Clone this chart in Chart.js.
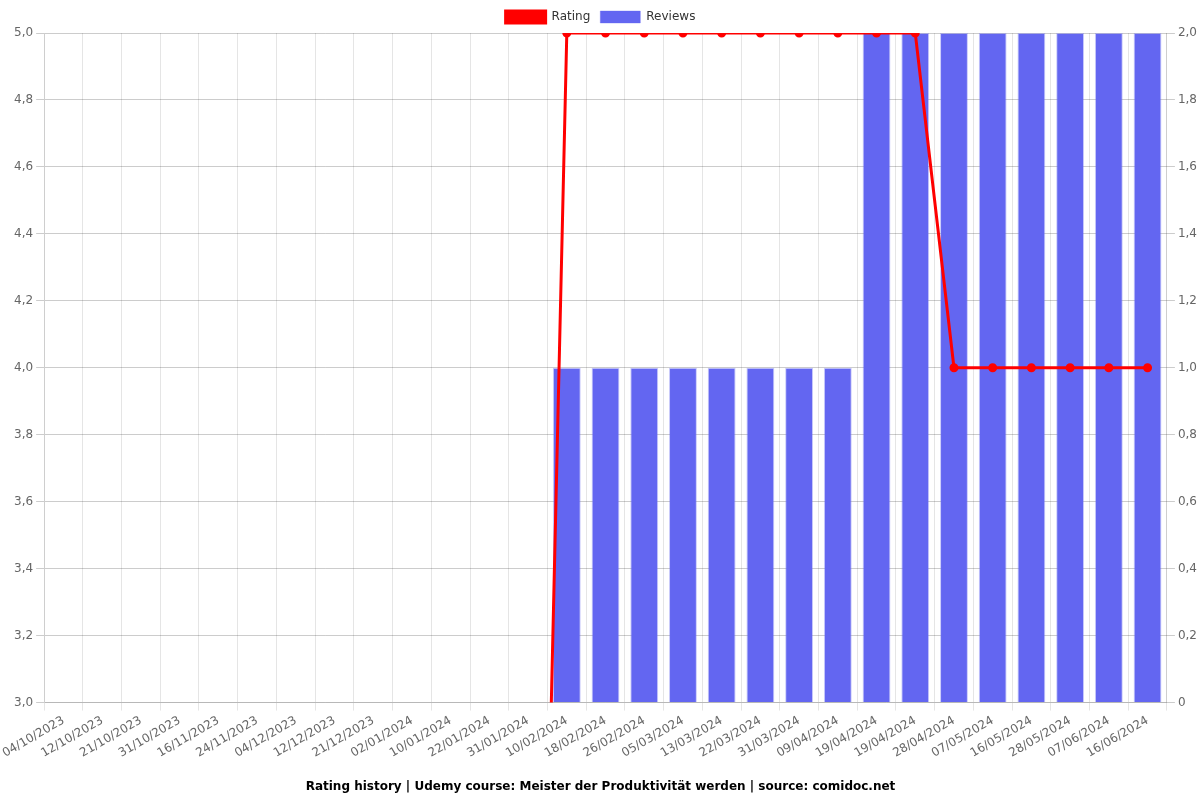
<!DOCTYPE html>
<html>
<head>
<meta charset="utf-8">
<script src="https://cdn.jsdelivr.net/npm/chart.js@4/dist/chart.umd.min.js"></script>
<style>
html,body{margin:0;padding:0;background:#fff;}
#wrap{width:1200px;height:800px;}
</style>
</head>
<body>
<div id="wrap"><canvas id="c" width="1200" height="800"></canvas></div>
<script>
const labels = ["04/10/2023","12/10/2023","21/10/2023","31/10/2023","16/11/2023","24/11/2023","04/12/2023","12/12/2023","21/12/2023","02/01/2024","10/01/2024","22/01/2024","31/01/2024","10/02/2024","18/02/2024","26/02/2024","05/03/2024","13/03/2024","22/03/2024","31/03/2024","09/04/2024","19/04/2024","19/04/2024","28/04/2024","07/05/2024","16/05/2024","28/05/2024","07/06/2024","16/06/2024"];
const ratings = [0,0,0,0,0,0,0,0,0,0,0,0,0,5,5,5,5,5,5,5,5,5,5,4,4,4,4,4,4];
const reviews = [0,0,0,0,0,0,0,0,0,0,0,0,0,1,1,1,1,1,1,1,1,2,2,2,2,2,2,2,2];
const titleText = "Rating history | Udemy course: Meister der Produktivität werden | source: comidoc.net";

Chart.defaults.font.family = "'DejaVu Sans', sans-serif";
Chart.defaults.font.size = 12;
Chart.defaults.color = "#666";

new Chart(document.getElementById('c'), {
  data: {
    labels: labels,
    datasets: [
      {
        type: 'line',
        label: 'Rating',
        data: ratings,
        yAxisID: 'y',
        borderColor: 'rgb(255,0,0)',
        backgroundColor: 'rgb(255,0,0)',
        borderWidth: 3,
        pointRadius: 3,
        pointHoverRadius: 3,
        tension: 0
      },
      {
        type: 'bar',
        label: 'Reviews',
        data: reviews,
        yAxisID: 'y1',
        backgroundColor: 'rgb(99,102,241)',
        borderColor: 'rgba(99,102,241,0.35)',
        borderWidth: 1,
        categoryPercentage: 0.8,
        barPercentage: 0.9
      }
    ]
  },
  options: {
    responsive: false,
    animation: false,
    locale: 'de-DE',
    layout: { padding: { left: 1, right: 0, top: 1, bottom: 0 } },
    plugins: {
      legend: {
        position: 'top',
        labels: { boxWidth: 40, boxHeight: 12, font: { size: 12 }, color: '#333' }
      },
      title: {
        display: true,
        position: 'bottom',
        text: titleText,
        color: '#000',
        font: { size: 12, weight: 'bold' },
        padding: { top: 16, bottom: 6 }
      },
      tooltip: { enabled: false }
    },
    scales: {
      x: {
        offset: true,
        grid: { offset: true, color: 'rgba(0,0,0,0.1)' },
        ticks: { maxRotation: 30, minRotation: 30, autoSkip: false, color: '#666' }
      },
      y: {
        position: 'left',
        min: 3,
        max: 5,
        ticks: { stepSize: 0.2, color: '#666' },
        grid: { color: 'rgba(0,0,0,0.2)' }
      },
      y1: {
        position: 'right',
        min: 0,
        max: 2,
        ticks: { stepSize: 0.2, color: '#666' },
        grid: { drawOnChartArea: false, color: 'rgba(0,0,0,0.2)' }
      }
    }
  }
});
</script>
</body>
</html>
